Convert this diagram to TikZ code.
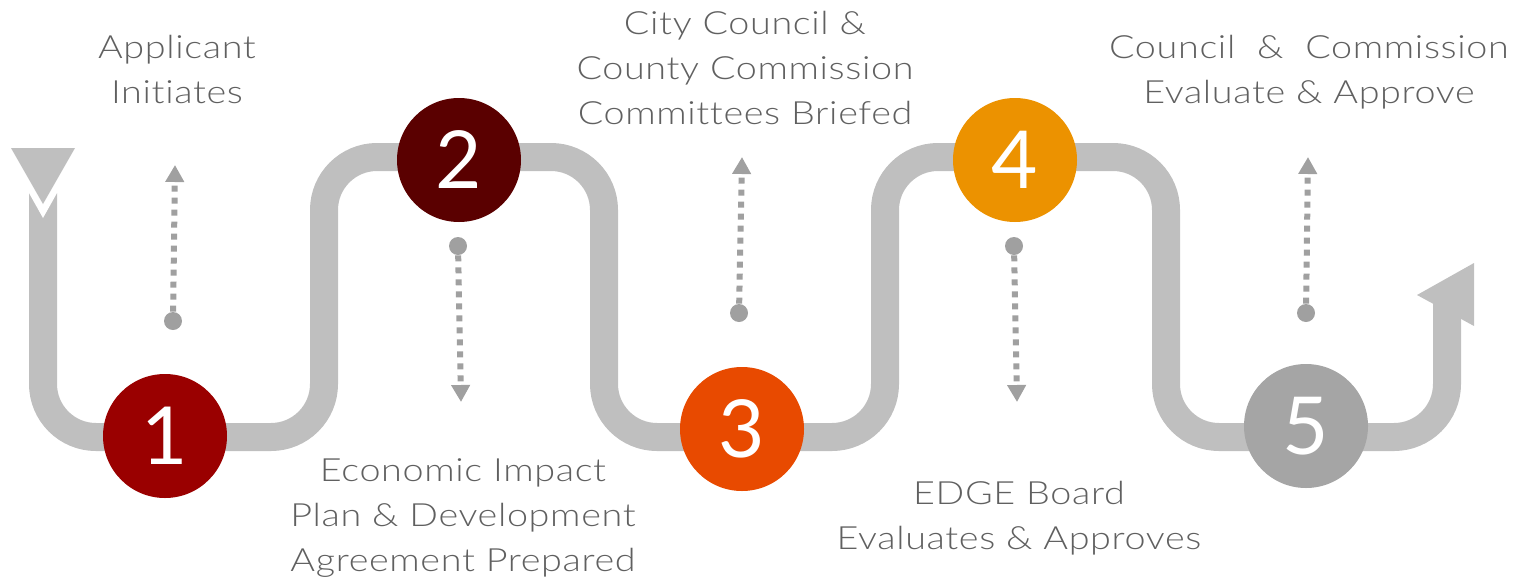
\documentclass[tikz,border=0pt]{standalone}
\usepackage{fontspec}
\setmainfont{Lato}
\newfontfamily\lightfont{Lato Light}[FakeStretch=1.18, LetterSpace=2, Ligatures=NoCommon]
\usetikzlibrary{arrows.meta}

\definecolor{trackgray}{HTML}{BFBFBF}
\definecolor{dotgray}{HTML}{A0A0A0}
\definecolor{textgray}{HTML}{606060}
\definecolor{stepone}{HTML}{9A0000}
\definecolor{steptwo}{HTML}{5A0000}
\definecolor{stepthree}{HTML}{E84A00}
\definecolor{stepfour}{HTML}{EC9200}
\definecolor{stepfive}{HTML}{A5A5A5}

\begin{document}
\begin{tikzpicture}[
    x=0.5pt, y=-0.5pt,
    % Track and marker styles
    track/.style={
      draw=trackgray, line width=14pt, rounded corners=26.5pt
    },
    stepnum/.style={
      circle, minimum size=62pt, inner sep=0pt,
      text=white, font=\fontsize{40}{40}\selectfont
    },
    steptext/.style={
      align=center, text=textgray, inner sep=0pt,
      font=\lightfont\fontsize{16}{22.5}\selectfont
    },
    dot/.style={
      circle, fill=dotgray, minimum size=9pt, inner sep=0pt
    },
    pointer/.style={
      draw=dotgray, line width=3pt, dash pattern=on 3pt off 3pt,
      -{Triangle[width=9pt, length=8.5pt]}
    },
  ]
  \useasboundingbox (0,0) rectangle (1516,584);

  % === Winding track ===
  \draw[track] (43,193) -- (43,437) -- (324,437) -- (324,157) -- (604,157)
    -- (604,437) -- (885,437) -- (885,157) -- (1166,157) -- (1166,437)
    -- (1447,437) -- (1447,300);

  % Start arrow (notched track end)
  \fill[white] (27.3,190) -- (58.7,190) -- (43,218) -- cycle;
  \fill[trackgray] (11,148) -- (75,148) -- (43,204) -- cycle;

  % End arrow
  \fill[trackgray] (1417,295) -- (1474,263) -- (1474,326) -- cycle;

  % === Step markers ===
  \node[stepnum, fill=stepone] (s1) at (165,436) {1};
  \node[stepnum, fill=steptwo] (s2) at (459,160) {2};
  \node[stepnum, fill=stepthree] (s3) at (742,429) {3};
  \node[stepnum, fill=stepfour] (s4) at (1015,160) {4};
  \node[stepnum, fill=stepfive] (s5) at (1306,426) {5};

  % === Dotted pointers ===
  \node[dot] (d1) at (173,321) {};
  \node[dot] (d2) at (458,246) {};
  \node[dot] (d3) at (739,313) {};
  \node[dot] (d4) at (1014,246) {};
  \node[dot] (d5) at (1306,313) {};
  \coordinate (t1) at (175,165);
  \coordinate (t2) at (461,402);
  \coordinate (t3) at (742,157);
  \coordinate (t4) at (1017,402);
  \coordinate (t5) at (1308,157);
  \foreach \i in {1,...,5}
    \draw[pointer] (d\i) -- (t\i);

  % === Step texts ===
  \node[steptext] (lbl1) at (177,69) {Applicant\\Initiates};
  \node[steptext] (lbl2) at (463,518) {Economic Impact\\Plan \& Development\\Agreement Prepared};
  \node[steptext] (lbl3) at (745,68) {City Council \&\\County Commission\\Committees Briefed};
  \node[steptext] (lbl4) at (1019,518) {EDGE Board\\Evaluates \& Approves};
  \node[steptext] (lbl5) at (1309,72) {Council\ \ \&\ \ Commission\\Evaluate \& Approve};

\end{tikzpicture}
\end{document}
